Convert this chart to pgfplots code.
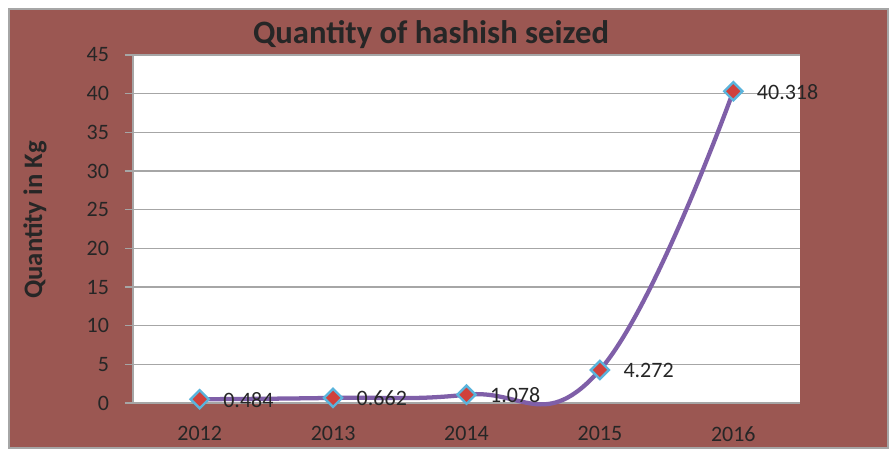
\documentclass[border=0pt]{standalone}
\usepackage{pgfplots}
\pgfplotsset{compat=1.18}
\usepackage{fontspec}
\setmainfont{Carlito}
\definecolor{bg}{HTML}{9B5752}
\definecolor{txt}{HTML}{262626}
\definecolor{gridc}{HTML}{A6A6A6}
\definecolor{linec}{HTML}{7F5FA8}
\definecolor{mred}{HTML}{D0413C}
\definecolor{mblue}{HTML}{5AB4DC}
\begin{document}
\begin{tikzpicture}[x=0.75pt,y=0.75pt]
\fill[white] (-133,-48) rectangle (762,403);
\fill[bg] (-124,-45) rectangle (755,394);
\draw[gridc, line width=1.5pt] (-124,-45) rectangle (755,394);
\begin{axis}[
  at={(0,0)}, anchor=south west,
  scale only axis, width=500.25pt, height=261pt,
  /pgf/number format/assume math mode=true,
  axis background/.style={fill=white},
  xmin=-0.5, xmax=4.5, ymin=0, ymax=45,
  axis x line*=bottom, axis y line*=left,
  axis line style={gridc, line width=1pt},
  every outer x axis line/.append style={-}, every outer y axis line/.append style={-},
  xtick={0,1,2,3,4},
  xticklabels={2012,2013,2014,2015,2016},
  major x tick style={draw=none},
  extra x ticks={-0.5,0.5,1.5,2.5,3.5,4.5},
  extra x tick labels={},
  extra x tick style={major tick length=4.5pt, tick style={gridc, line width=1pt, draw=gridc}, xmajorgrids=false},
  ytick={0,5,...,45},
  tick align=outside,
  major tick length=6pt,
  y tick style={gridc, line width=1pt},
  ymajorgrids, grid style={gridc, line width=1pt},
  tick label style={font=\fontsize{16.5}{19}\selectfont, text=txt},
  xticklabel style={yshift=-8pt},
  yticklabel style={xshift=-8.5pt},
  clip=false,
]
\addplot[linec, line width=3.2pt, smooth, tension=0.75, mark=square*, mark size=4.8pt,
  mark options={rotate=45, fill=mred, draw=mblue, line width=1.8pt},
  nodes near coords, point meta=explicit symbolic,
  every node near coord/.append style={anchor=west, xshift=13.5pt, yshift=-0.5pt, font=\fontsize{16.5}{19}\selectfont, text=txt}]
coordinates {(0,0.484)[0.484] (1,0.662)[0.662] (2,1.078)[1.078] (3,4.272)[4.272] (4,40.318)[40.318]};
\end{axis}
\node[font=\fontsize{24.5}{29}\selectfont\bfseries, text=txt] at (298,368) {Quantity of hashish seized};
\node[font=\fontsize{20}{24}\selectfont\bfseries, text=txt, rotate=90] at (-98,183) {Quantity in Kg};
\end{tikzpicture}
\end{document}
